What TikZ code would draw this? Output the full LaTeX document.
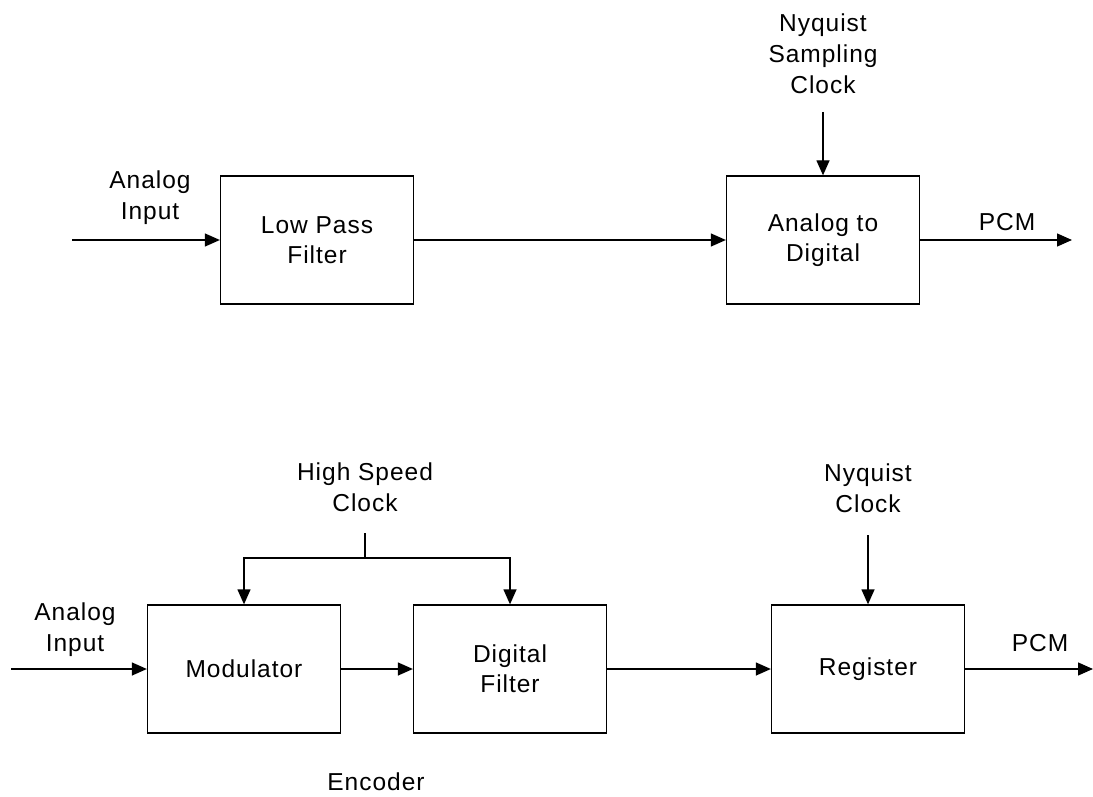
\documentclass[tikz,border=0pt]{standalone}
\usepackage{fontspec}
\setmainfont{Liberation Sans}[LetterSpace=4.0]
\usepackage{tikz}
\usetikzlibrary{arrows.meta, positioning}

\begin{document}
\begin{tikzpicture}[
    x=1pt, y=-1pt,
    block/.style={rectangle, draw, line width=1.3pt, minimum width=193pt,
        minimum height=128pt, align=center, inner sep=0pt,
        font=\fontsize{24.5}{30}\selectfont},
    lbl/.style={align=center, inner sep=0pt, font=\fontsize{24.5}{31}\selectfont},
    arrow/.style={-{Triangle[length=15pt,width=13pt]}, line width=1.3pt},
    wire/.style={line width=1.3pt}
]
\useasboundingbox (0,0) rectangle (1093,797);

% Top chain
\node[block] (lpf) at (317,240) {Low Pass\\Filter};
\node[block] (adc) at (823,240) {Analog to\\Digital};

\coordinate (ain1) at (72,240);
\coordinate (clk1) at (823,112);
\coordinate (pcm1) at (1072,240);

\node[lbl] (ainlbl1) at (150,198) {Analog\\Input};
\node[lbl] (clklbl1) at (823,54) {Nyquist\\Sampling\\Clock};
\node[lbl] (pcmlbl1) at (1007,222) {PCM};

\draw[arrow] (ain1) -- (lpf.west);
\draw[arrow] (lpf.east) -- (adc.west);
\draw[arrow] (clk1) -- (adc.north);
\draw[arrow] (adc.east) -- (pcm1);

% Bottom chain
\node[block] (mod) at (244,669) {Modulator};
\node[block] (dfilt) at (510,669) {Digital\\Filter};
\node[block] (reg) at (868,669) {Register};

\coordinate (ain2) at (11,669);
\coordinate (hsc) at (365,533);
\coordinate (hsj) at (365,558);
\coordinate (clk2) at (868,535);
\coordinate (pcm2) at (1093,669);

\node[lbl] (ainlbl2) at (75,630) {Analog\\Input};
\node[lbl] (hsclbl) at (365,487) {High Speed\\Clock};
\node[lbl] (clklbl2) at (868,488) {Nyquist\\Clock};
\node[lbl] (pcmlbl2) at (1040,643) {PCM};
\node[lbl] (enc) at (376,782) {Encoder};

\draw[arrow] (ain2) -- (mod.west);
\draw[arrow] (mod.east) -- (dfilt.west);
\draw[arrow] (dfilt.east) -- (reg.west);
\draw[arrow] (reg.east) -- (pcm2);
\draw[arrow] (clk2) -- (reg.north);

% High speed clock split
\draw[wire] (hsc) -- (hsj);
\draw[arrow] (hsj) -| (mod.north);
\draw[arrow] (hsj) -| (dfilt.north);

\end{tikzpicture}
\end{document}
